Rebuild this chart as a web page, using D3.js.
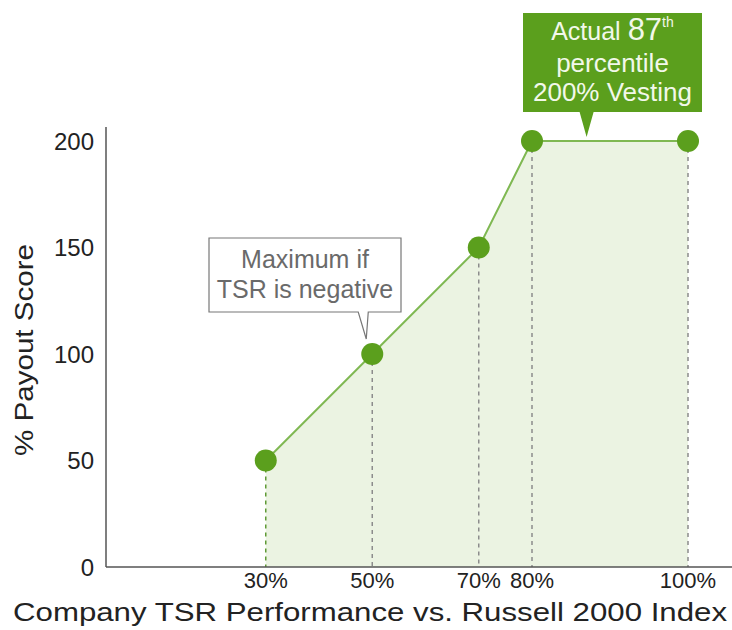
<!DOCTYPE html>
<html>
<head>
<meta charset="utf-8">
<script src="https://cdn.jsdelivr.net/npm/d3@7"></script>
<style>
  body { margin: 0; background: #fff; }
  svg text { font-family: "Liberation Sans", Arial, sans-serif; }
</style>
</head>
<body>
<div id="chart"></div>
<script>
// data
const tsrPct = [30, 50, 70, 80, 100];
const payout = [50, 100, 150, 200, 200];
const yTicks = [0, 50, 100, 150, 200];
const xTickLabels = ["30%", "50%", "70%", "80%", "100%"];

const width = 732, height = 630;
const svg = d3.select("#chart").append("svg")
  .attr("width", width)
  .attr("height", height);

const plotLeft = 106, plotBottom = 567, plotTop = 127;

// the source axis is stretched after 80%
const x = d3.scaleLinear().domain([0, 80, 100]).range([plotLeft, 532, 688]);
const y = d3.scaleLinear().domain([0, 200]).range([plotBottom, 141]);

const pts = tsrPct.map((d, i) => ({ x: d, y: payout[i], label: xTickLabels[i] }));

const green = "#5b9f1d";
const lineGreen = "#7fb852";

// shaded area under the curve
const area = d3.area()
  .x(d => x(d.x))
  .y0(y(0))
  .y1(d => y(d.y));
svg.append("path")
  .datum(pts)
  .attr("d", area)
  .attr("fill", "#ebf3e2");

// dashed drop lines
svg.selectAll(".drop")
  .data(pts)
  .enter().append("line")
  .attr("x1", d => x(d.x))
  .attr("x2", d => x(d.x))
  .attr("y1", d => y(d.y))
  .attr("y2", plotBottom)
  .attr("stroke", (d, i) => i === 0 ? "#5f9a35" : "#8c8c8c")
  .attr("stroke-width", 1.5)
  .attr("stroke-dasharray", "4,4");

// axes (plain lines, no tick marks)
svg.append("line")
  .attr("x1", plotLeft).attr("x2", plotLeft)
  .attr("y1", plotTop).attr("y2", plotBottom)
  .attr("stroke", "#555").attr("stroke-width", 1.5);
svg.append("line")
  .attr("x1", plotLeft).attr("x2", width)
  .attr("y1", plotBottom).attr("y2", plotBottom)
  .attr("stroke", "#555").attr("stroke-width", 1.5);

// line + dots
const line = d3.line().x(d => x(d.x)).y(d => y(d.y));
svg.append("path")
  .datum(pts)
  .attr("d", line)
  .attr("fill", "none")
  .attr("stroke", lineGreen)
  .attr("stroke-width", 2);

svg.selectAll(".dot")
  .data(pts)
  .enter().append("circle")
  .attr("cx", d => x(d.x))
  .attr("cy", d => y(d.y))
  .attr("r", 11)
  .attr("fill", green);

// y tick labels
svg.selectAll(".ytick")
  .data(yTicks)
  .enter().append("text")
  .attr("x", 94)
  .attr("y", d => y(d))
  .attr("dy", "0.36em")
  .attr("text-anchor", "end")
  .style("font-size", "24px")
  .attr("fill", "#222")
  .text(d => d);

// x tick labels
svg.selectAll(".xtick")
  .data(pts)
  .enter().append("text")
  .attr("x", d => x(d.x))
  .attr("y", 588)
  .attr("text-anchor", "middle")
  .style("font-size", "22px")
  .attr("fill", "#222")
  .text(d => d.label);

// axis titles
svg.append("text")
  .attr("x", 370)
  .attr("y", 621)
  .attr("text-anchor", "middle")
  .attr("textLength", 714)
  .attr("lengthAdjust", "spacingAndGlyphs")
  .style("font-size", "25px")
  .attr("fill", "#222")
  .text("Company TSR Performance vs. Russell 2000 Index");

svg.append("text")
  .attr("transform", "translate(33,350) rotate(-90)")
  .attr("text-anchor", "middle")
  .attr("textLength", 212)
  .attr("lengthAdjust", "spacingAndGlyphs")
  .style("font-size", "26px")
  .attr("fill", "#222")
  .text("% Payout Score");

// grey callout: maximum if TSR is negative
const p50 = pts[1];
const gx = x(p50.x), gy = y(p50.y);
const gBox = { x0: 209, x1: 401, y0: 238, y1: 312 };
svg.append("path")
  .attr("d", `M${gBox.x0},${gBox.y0}H${gBox.x1}V${gBox.y1}H${gx - 4}L${gx - 6},${gy - 15}L${gx - 14},${gBox.y1}H${gBox.x0}Z`)
  .attr("fill", "#fff")
  .attr("stroke", "#777")
  .attr("stroke-width", 1.2);
svg.append("text")
  .attr("x", (gBox.x0 + gBox.x1) / 2)
  .attr("y", 268)
  .attr("text-anchor", "middle")
  .style("font-size", "25px")
  .attr("fill", "#6a6a6a")
  .text("Maximum if");
svg.append("text")
  .attr("x", (gBox.x0 + gBox.x1) / 2)
  .attr("y", 298)
  .attr("text-anchor", "middle")
  .style("font-size", "25px")
  .attr("fill", "#6a6a6a")
  .text("TSR is negative");

// green callout: actual 87th percentile
const tipX = x(87), tipY = y(200) - 4;
const cBox = { x0: 523, x1: 702, y0: 13, y1: 112 };
svg.append("path")
  .attr("d", `M${cBox.x0},${cBox.y0}H${cBox.x1}V${cBox.y1}H${tipX + 7}L${tipX},${tipY}L${tipX - 7},${cBox.y1}H${cBox.x0}Z`)
  .attr("fill", green);

const cx = (cBox.x0 + cBox.x1) / 2;
const t1 = svg.append("text")
  .attr("x", cx)
  .attr("y", 40)
  .attr("text-anchor", "middle")
  .attr("fill", "#f2f8ea")
  .style("font-size", "25px");
t1.append("tspan").text("Actual ");
t1.append("tspan").style("font-size", "31px").text("87");
t1.append("tspan").style("font-size", "14px").attr("dy", "-13").text("th");

svg.append("text")
  .attr("x", cx)
  .attr("y", 72)
  .attr("text-anchor", "middle")
  .attr("fill", "#f2f8ea")
  .style("font-size", "26px")
  .text("percentile");
svg.append("text")
  .attr("x", cx)
  .attr("y", 101)
  .attr("text-anchor", "middle")
  .attr("fill", "#f2f8ea")
  .style("font-size", "26px")
  .text("200% Vesting");
</script>
</body>
</html>
